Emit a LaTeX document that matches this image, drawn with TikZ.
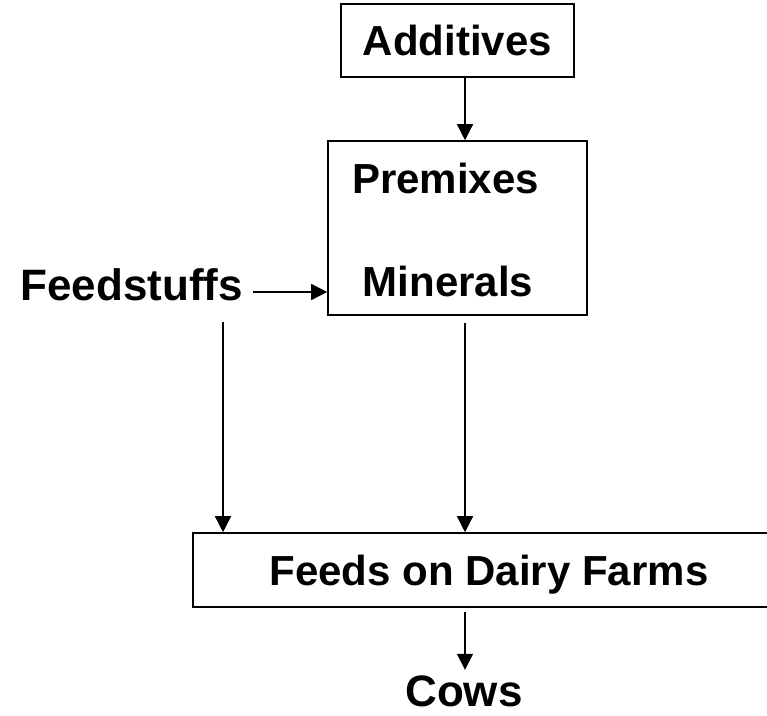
\documentclass[tikz,border=0pt]{standalone}
\usepackage{fontspec}
\setmainfont{Liberation Sans}
\usetikzlibrary{arrows.meta}
\tikzset{
  boxnode/.style={draw=black, line width=1.6pt, rectangle, inner sep=0pt,
    text height=30pt, text depth=0pt,
    font=\fontsize{42}{50}\selectfont\bfseries},
  txt/.style={inner sep=0pt, text height=30pt, text depth=0pt,
    font=\fontsize{42}{50}\selectfont\bfseries},
  bigtxt/.style={txt, font=\fontsize{44}{52}\selectfont\bfseries},
  arr/.style={line width=1.5pt, -{Triangle[length=16pt,width=16pt]}}
}
\begin{document}
\begin{tikzpicture}[x=1pt,y=-1pt]
\fill[white] (0,0) rectangle (767,715);
\clip (0,0) rectangle (767,715);
% boxes
\node[boxnode, minimum width=233pt, minimum height=73pt] (add) at (457.5,40.5) {Additives};
\node[boxnode, minimum width=259pt, minimum height=174pt] (pm) at (457.5,228) {};
\node[boxnode, minimum width=592pt, minimum height=74pt] (fd) at (489,570) {Feeds on Dairy Farms};
% texts
\node[txt, anchor=base] (pre) at (445.5,193) {Premixes};
\node[txt, anchor=base] (min) at (448,296) {Minerals};
\node[bigtxt, anchor=base east, inner xsep=10pt] (fs) at (253,300) {Feedstuffs};
\node[bigtxt, anchor=base, inner sep=6pt] (cows) at (464,706) {Cows};
% helper coordinates
\coordinate (col) at (465,0);
\coordinate (fsy) at (0,292);
\coordinate (fsd) at (223,322);
% connectors
\draw[arr] (add.south -| col) -- (pm.north -| col);
\draw[arr] (fs.east |- fsy) -- (pm.west |- fsy);
\draw[arr] (fsd) -- (fd.north -| fsd);
\draw[arr, shorten <=7pt] (pm.south -| col) -- (fd.north -| col);
\draw[arr, shorten <=4pt] (fd.south -| col) -- (cows.north -| col);
\end{tikzpicture}
\end{document}
